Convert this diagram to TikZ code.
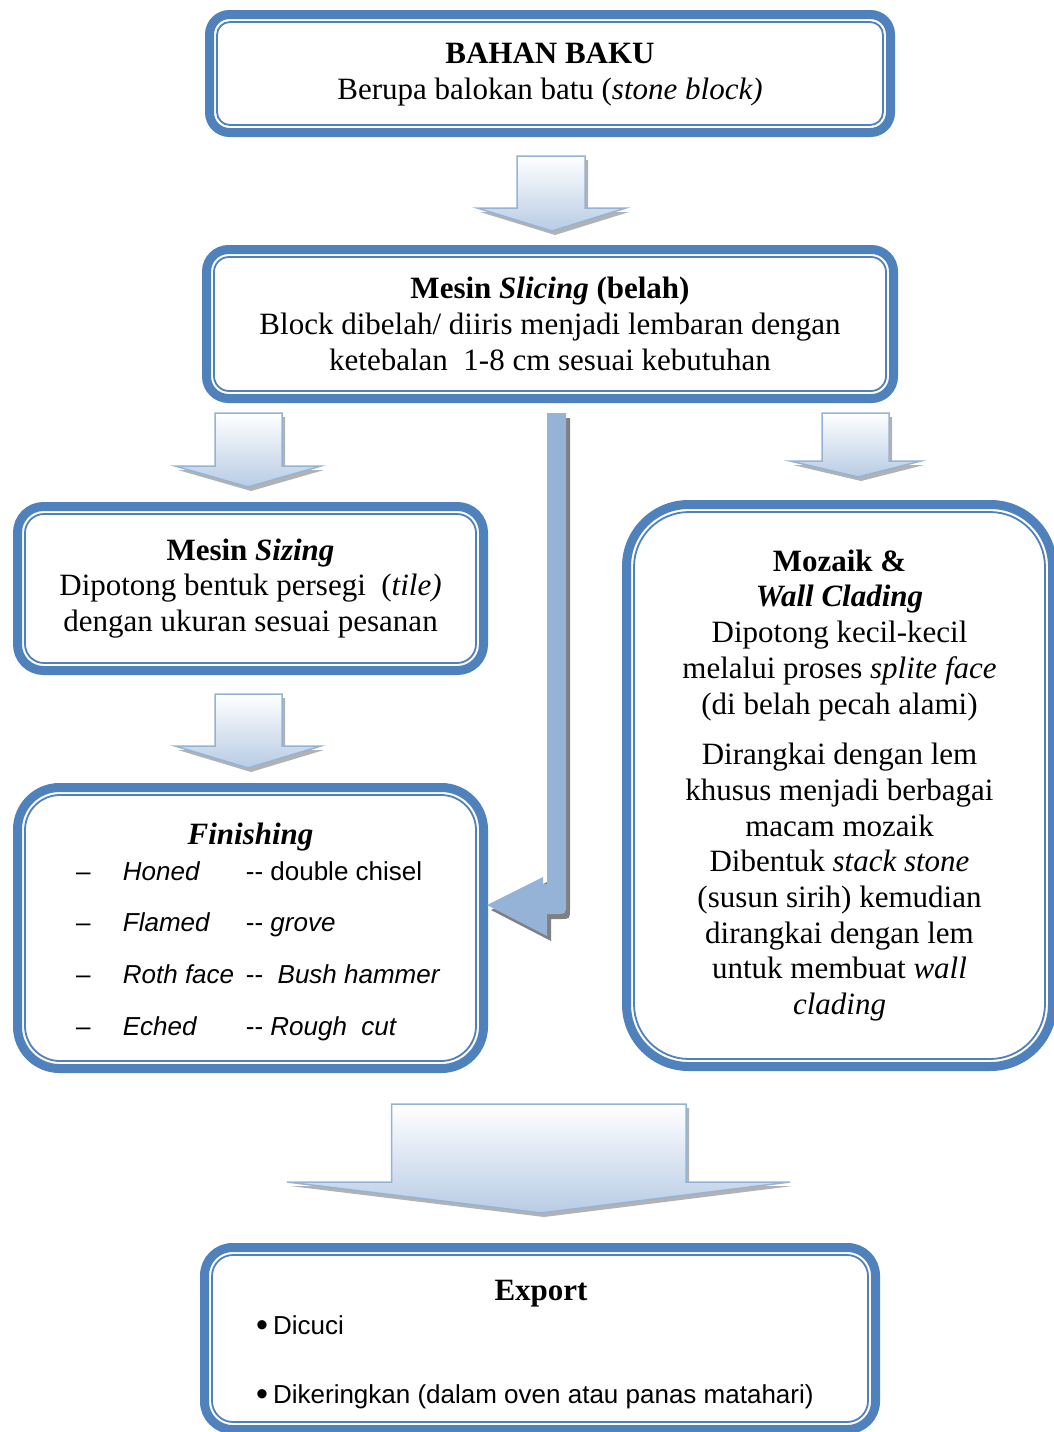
\documentclass[tikz,border=0pt]{standalone}
\usepackage{fontspec}
\setmainfont{Liberation Serif}
\newfontfamily\arialf{Liberation Sans}
\usetikzlibrary{calc}
\definecolor{boxblue}{RGB}{79,129,189}
\definecolor{arrline}{RGB}{149,179,215}
\definecolor{arrfill}{RGB}{184,204,228}
\definecolor{lblue}{RGB}{149,179,215}
\definecolor{shadowgray}{RGB}{128,128,128}
\newcommand\dd{-\kern0pt-}
\newcommand\bigbullet{{\fontsize{34}{30}\selectfont\raisebox{-2.5pt}{•}}\hspace{5pt}}
\newcommand\innerborder[2]{\draw[innerline=#2] ($(#1.north west)+(7.5,7.5)$) rectangle ($(#1.south east)-(7.5,7.5)$);}
\newcommand\blockarrow[8]{%
  \fill[arrowshadow, shift={(3,4)}] (#1,#3) -- (#2,#3) -- (#2,#4) -- (#6,#4) -- (#7,#8) -- (#5,#4) -- (#1,#4) -- cycle;
  \draw[arrowbody] (#1,#3) -- (#2,#3) -- (#2,#4) -- (#6,#4) -- (#7,#8) -- (#5,#4) -- (#1,#4) -- cycle;}
\begin{document}
\begin{tikzpicture}[x=1pt,y=-1pt,
  flowbox/.style={draw=boxblue, line width=9pt, rounded corners=#1, outer sep=0pt, inner sep=0pt, align=center, font=\fontsize{31}{35.7}\selectfont},
  innerline/.style={draw=boxblue, line width=1.8pt, rounded corners=#1},
  arrowbody/.style={draw=arrline, line width=1.5pt, top color=white, bottom color=arrfill, line join=miter},
  arrowshadow/.style={fill=gray!60},
  sanstext/.style={anchor=base west, inner sep=0pt, font=\arialf\fontsize{26}{30}\selectfont},
  serifhead/.style={anchor=base, inner sep=0pt, font=\fontsize{31}{36}\selectfont\bfseries},
]
\useasboundingbox (0,0) rectangle (1053,1432);
\fill[white] (0,0) rectangle (1053,1432);

% boxes
\node[flowbox=20pt, minimum width=681pt, minimum height=118pt] (raw) at (550,73.5) {};
\innerborder{raw}{13pt}
\node[anchor=base, inner sep=0pt, align=center, font=\fontsize{31}{36.5}\selectfont] (rawt) at (550,99.5)
  {\textbf{BAHAN BAKU}\\Berupa balokan batu (\textit{stone block)}};

\node[flowbox=22pt, minimum width=687pt, minimum height=149pt] (slice) at (550,324)
  {\textbf{Mesin \textit{Slicing} (belah)}\\Block dibelah/ diiris menjadi lembaran dengan\\ketebalan\ \ 1-8 cm sesuai kebutuhan};
\innerborder{slice}{15pt}

\node[flowbox=26pt, minimum width=466pt, minimum height=164pt] (size) at (250.5,588.5)
  {\textbf{Mesin \textit{Sizing}}\\Dipotong bentuk persegi\ \ (\textit{tile)}\\dengan ukuran sesuai pesanan};
\innerborder{size}{19pt}

\node[flowbox=42pt, minimum width=466pt, minimum height=281pt] (fin) at (250.5,928) {};
\innerborder{fin}{35pt}
\node[serifhead, font=\fontsize{31}{36}\selectfont\bfseries\itshape] (fint) at (250.5,844) {Finishing};
\node[sanstext] (f1) at (76,880) {\makebox[46.7pt][l]{–}\makebox[123pt][l]{\textit{Honed}}\dd{} double chisel};
\node[sanstext] (f2) at (76,931.7) {\makebox[46.7pt][l]{–}\makebox[123pt][l]{\textit{Flamed}}\dd{} \textit{grove}};
\node[sanstext] (f3) at (76,983) {\makebox[46.7pt][l]{–}\makebox[123pt][l]{\textit{Roth face}}\dd\ \ \textit{Bush hammer}};
\node[sanstext] (f4) at (76,1035) {\makebox[46.7pt][l]{–}\makebox[123pt][l]{\textit{Eched}}\dd{} \textit{Rough\ \ cut}};

\node[flowbox=62pt, minimum width=426pt, minimum height=562pt] (moz) at (839.5,785.5)
  {\textbf{Mozaik \&}\\\textbf{\textit{Wall Clading}}\\Dipotong kecil-kecil\\melalui proses \textit{splite face}\\(di belah pecah alami)\\[15pt]Dirangkai dengan lem\\khusus menjadi berbagai\\macam mozaik\\Dibentuk \textit{stack stone}\\(susun sirih) kemudian\\dirangkai dengan lem\\untuk membuat \textit{wall}\\\textit{clading}};
\innerborder{moz}{55pt}

\node[flowbox=28pt, minimum width=671pt, minimum height=182pt] (exp) at (540,1338.5) {};
\innerborder{exp}{21pt}
\node[serifhead] (expt) at (541,1300) {Export};
\node[sanstext] (e1) at (256,1334) {\bigbullet Dicuci};
\node[sanstext] (e2) at (256,1403) {\bigbullet Dikeringkan (dalam oven atau panas matahari)};

% block arrows
\blockarrow{517}{585}{156}{208}{477}{626}{552}{231}
\blockarrow{215}{282}{413}{466}{175}{321}{248}{487}
\blockarrow{822}{889}{413}{461}{790}{921}{858}{477}
\blockarrow{215}{282}{694}{746}{175}{321}{248}{768}
\blockarrow{391.7}{686}{1104}{1182}{287}{790}{541}{1213}

% bent arrow from slicing to finishing
\fill[shadowgray, shift={(4,5)}] (547,413) -- (566,413) -- (566,904) .. controls (566,914) .. (556,914) -- (547,914) -- (547,936) -- (487,905) -- (543,877) -- (543,884) -- (547,884) -- cycle;
\fill[lblue] (547,413) -- (566,413) -- (566,904) .. controls (566,914) .. (556,914) -- (547,914) -- (547,936) -- (487,905) -- (543,877) -- (543,884) -- (547,884) -- cycle;
\end{tikzpicture}
\end{document}
